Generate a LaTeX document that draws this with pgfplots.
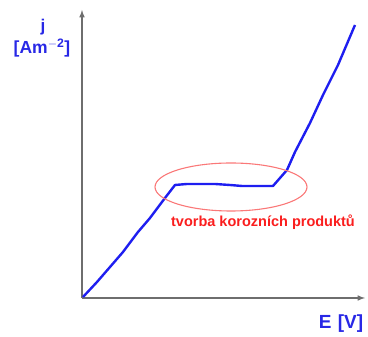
\documentclass[border=0pt]{standalone}
\usepackage{fontspec}
\setmainfont{Liberation Sans}
\usepackage{pgfplots}
\pgfplotsset{compat=1.18}
\definecolor{curveblue}{RGB}{30,30,240}
\definecolor{lblblue}{RGB}{40,40,230}
\definecolor{ellred}{RGB}{250,120,120}
\definecolor{txtred}{RGB}{250,30,30}
\definecolor{axgray}{RGB}{110,110,110}
\begin{document}
\begin{tikzpicture}
\begin{axis}[
  scale only axis,
  width=283pt, height=288pt,
  xmin=0, xmax=283, ymin=0, ymax=288,
  axis lines=left,
  axis line style={-latex, axgray, line width=1.5pt},
  xtick=\empty, ytick=\empty,
  clip=false,
]
\path (axis cs:-82,-35) rectangle (axis cs:286,298);
\addplot[curveblue, line width=2.4pt, line join=round] coordinates {
(1,1) (15,16) (28,31) (41,46) (56,66) (68,80) (83,100) (93,113)
(105,114) (118,114) (133,114) (148,113) (160,112) (173,112) (191,112)
(205,128) (213,146) (228,175) (241,203) (256,233) (273,273)
};
\draw[ellred, line width=1.1pt] (axis cs:149,111) ellipse [x radius=76pt, y radius=24pt];
\node[txtred, font=\bfseries\fontsize{14.5}{16}\selectfont] at (axis cs:181,76) {tvorba korozních produktů};
\node[lblblue, font=\bfseries\fontsize{17}{19}\selectfont] at (axis cs:-39,271) {j};
\node[lblblue, font=\bfseries\fontsize{17.5}{19}\selectfont] at (axis cs:-40,250) {[Am$^{\mathbf{-2}}$]};
\node[lblblue, font=\bfseries\fontsize{19}{21}\selectfont] at (axis cs:259,-26) {E\,\,[V]};
\end{axis}
\end{tikzpicture}
\end{document}
